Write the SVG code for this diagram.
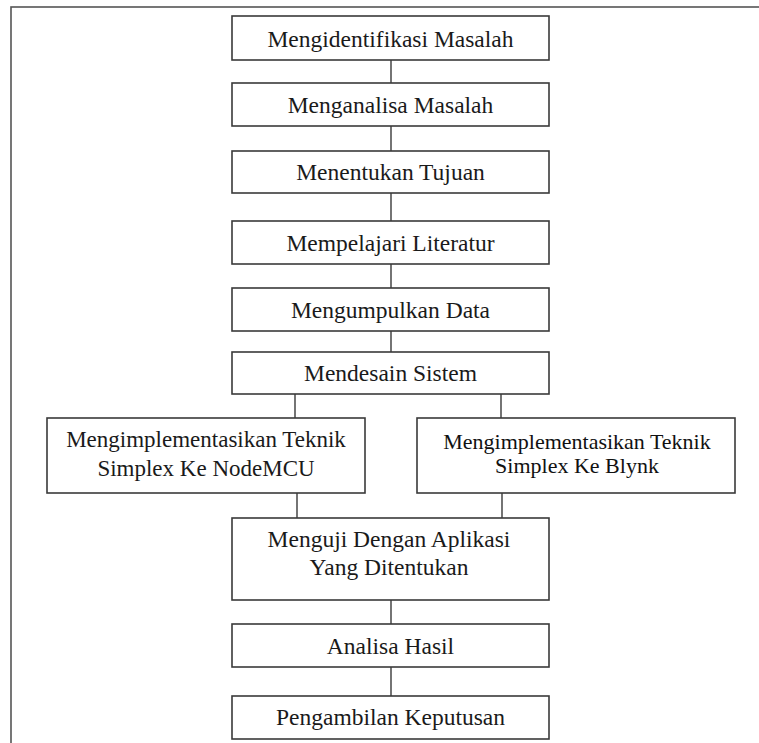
<svg xmlns="http://www.w3.org/2000/svg" width="759" height="743" viewBox="0 0 759 743">
<style>
  .box { fill: #ffffff; stroke: #3a3a3a; stroke-width: 1.6; }
  .t { font-family: "Liberation Serif", "Times New Roman", serif; font-size: 23.5px; fill: #1a1a1a; text-anchor: middle; }
  .t2 { font-size: 23px; }
  .t3 { font-size: 22px; fill: #111; }
  .c line { stroke: #3a3a3a; stroke-width: 1.4; }
  .frame { fill: none; stroke: #555555; stroke-width: 1.6; }
</style>
<rect x="0" y="0" width="759" height="743" fill="#ffffff"/>
<rect class="frame" x="11" y="7" width="770" height="760"/>
<g class="c" id="connectors">
  <line x1="391" y1="60" x2="391" y2="83"/>
  <line x1="391" y1="126" x2="391" y2="151"/>
  <line x1="391" y1="193" x2="391" y2="221"/>
  <line x1="391" y1="264" x2="391" y2="288"/>
  <line x1="391" y1="331" x2="391" y2="352"/>
  <line x1="295" y1="394" x2="295" y2="418"/>
  <line x1="501" y1="394" x2="501" y2="418"/>
  <line x1="297" y1="493" x2="297" y2="518"/>
  <line x1="502" y1="493" x2="502" y2="518"/>
  <line x1="391" y1="600" x2="391" y2="624"/>
  <line x1="391" y1="667" x2="391" y2="696"/>
</g>
<g id="n1"><rect class="box" x="232" y="16" width="317" height="44"/><text class="t" x="390.5" y="46.5">Mengidentifikasi Masalah</text></g>
<g id="n2"><rect class="box" x="232" y="83" width="317" height="43"/><text class="t" x="390.5" y="112.5">Menganalisa Masalah</text></g>
<g id="n3"><rect class="box" x="232" y="151" width="317" height="42"/><text class="t" x="390.5" y="180">Menentukan Tujuan</text></g>
<g id="n4"><rect class="box" x="232" y="221" width="317" height="43"/><text class="t" x="390.5" y="250.5">Mempelajari Literatur</text></g>
<g id="n5"><rect class="box" x="232" y="288" width="317" height="43"/><text class="t" x="390.5" y="317.5">Mengumpulkan Data</text></g>
<g id="n6"><rect class="box" x="232" y="352" width="317" height="42"/><text class="t" x="390.5" y="381">Mendesain Sistem</text></g>
<g id="n7"><rect class="box" x="47" y="418" width="318" height="75"/><text class="t t2" x="206" y="447">Mengimplementasikan Teknik</text><text class="t t2" x="206" y="476">Simplex Ke NodeMCU</text></g>
<g id="n8"><rect class="box" x="417" y="418" width="318" height="75"/><text class="t t3" x="577" y="449">Mengimplementasikan Teknik</text><text class="t t3" x="577" y="473">Simplex Ke Blynk</text></g>
<g id="n9"><rect class="box" x="232" y="518" width="317" height="82"/><text class="t" x="389" y="547">Menguji Dengan Aplikasi</text><text class="t" x="389" y="575">Yang Ditentukan</text></g>
<g id="n10"><rect class="box" x="232" y="624" width="317" height="43"/><text class="t" x="390.5" y="653.5">Analisa Hasil</text></g>
<g id="n11"><rect class="box" x="232" y="696" width="317" height="43"/><text class="t" x="390.5" y="725">Pengambilan Keputusan</text></g>
</svg>
